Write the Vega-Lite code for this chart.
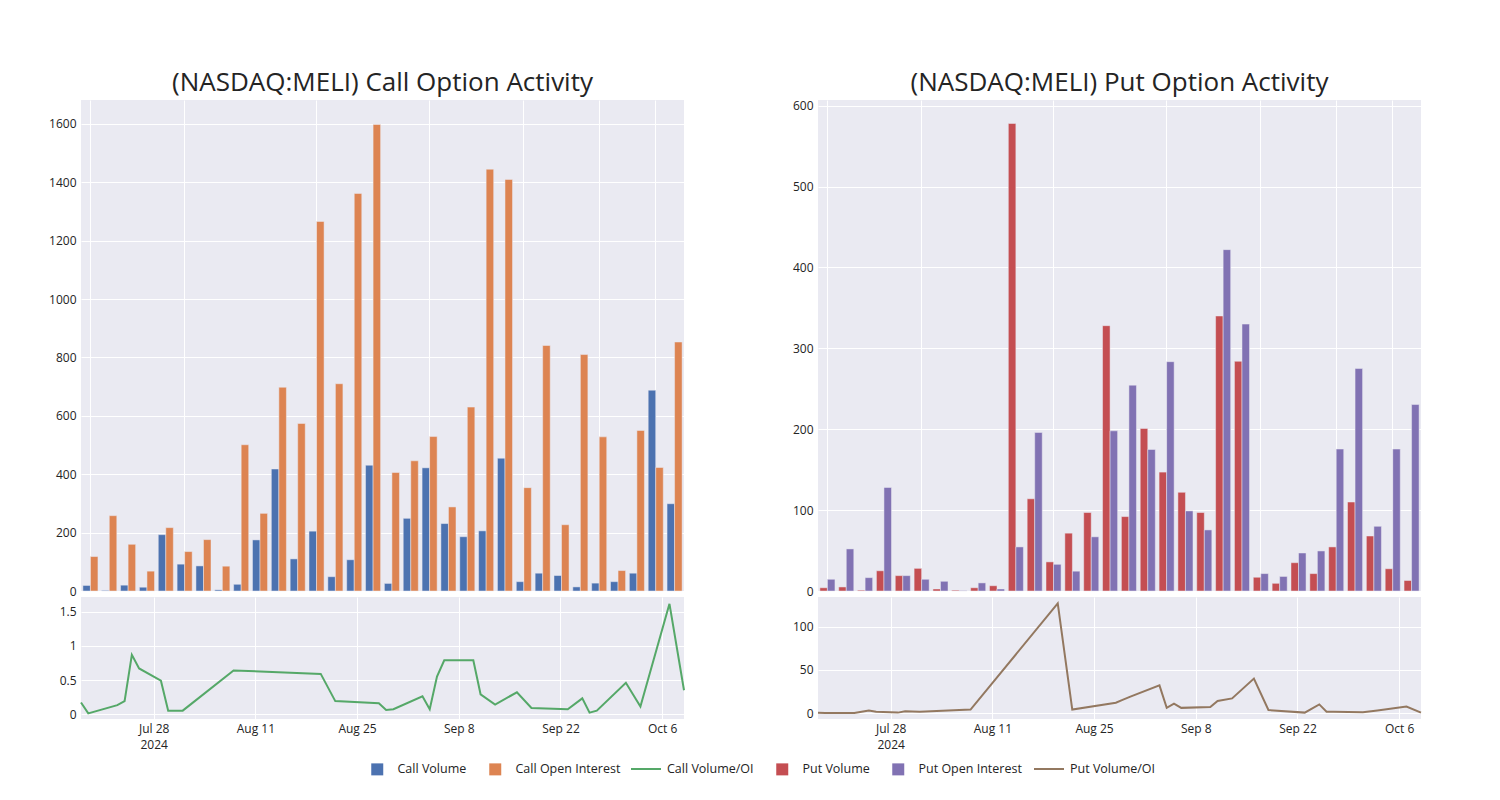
{
  "$schema": "https://vega.github.io/schema/vega-lite/v6.json",
  "autosize": {"type": "pad"},
  "padding": {"left": 48, "top": 69, "right": 0, "bottom": 0},
  "background": "white",
  "config": {
    "font": "Open Sans",
    "view": {"fill": "#eaeaf2", "stroke": null},
    "axis": {"labelFont": "Open Sans", "labelFontSize": 12, "labelColor": "#242424", "ticks": false, "domain": false, "gridColor": "white", "gridWidth": 1, "labelPadding": 5, "title": null, "minExtent": 0},
    "title": {"font": "Open Sans", "fontSize": 26, "fontWeight": "normal", "color": "#242424", "anchor": "middle", "frame": "group", "baseline": "alphabetic", "offset": 4},
    "legend": {"orient": "none", "direction": "horizontal", "title": null, "padding": 0, "labelFont": "Open Sans", "labelFontSize": 12.5, "labelColor": "#242424", "symbolStrokeWidth": 0, "symbolOpacity": 1, "labelLimit": 300}
  },
  "resolve": {"scale": {"xOffset": "independent", "color": "independent", "stroke": "independent"}, "legend": {"color": "independent", "stroke": "independent"}},
  "datasets": {
    "call": [
      {"date": "2024-07-18", "Call Volume": 19, "Call Open Interest": 118, "Call Volume/OI": 0.17},
      {"date": "2024-07-19", "Call Volume": 2, "Call Open Interest": 258, "Call Volume/OI": 0.01},
      {"date": "2024-07-23", "Call Volume": 20, "Call Open Interest": 160, "Call Volume/OI": 0.13},
      {"date": "2024-07-24", "Call Volume": 13, "Call Open Interest": 68, "Call Volume/OI": 0.19},
      {"date": "2024-07-25", "Call Volume": 193, "Call Open Interest": 217, "Call Volume/OI": 0.87},
      {"date": "2024-07-26", "Call Volume": 92, "Call Open Interest": 135, "Call Volume/OI": 0.67},
      {"date": "2024-07-29", "Call Volume": 86, "Call Open Interest": 176, "Call Volume/OI": 0.49},
      {"date": "2024-07-30", "Call Volume": 4, "Call Open Interest": 85, "Call Volume/OI": 0.05},
      {"date": "2024-08-01", "Call Volume": 23, "Call Open Interest": 501, "Call Volume/OI": 0.05},
      {"date": "2024-08-08", "Call Volume": 175, "Call Open Interest": 266, "Call Volume/OI": 0.64},
      {"date": "2024-08-20", "Call Volume": 418, "Call Open Interest": 698, "Call Volume/OI": 0.59},
      {"date": "2024-08-22", "Call Volume": 110, "Call Open Interest": 574, "Call Volume/OI": 0.19},
      {"date": "2024-08-28", "Call Volume": 205, "Call Open Interest": 1266, "Call Volume/OI": 0.16},
      {"date": "2024-08-29", "Call Volume": 49, "Call Open Interest": 710, "Call Volume/OI": 0.06},
      {"date": "2024-08-30", "Call Volume": 107, "Call Open Interest": 1362, "Call Volume/OI": 0.07},
      {"date": "2024-09-03", "Call Volume": 431, "Call Open Interest": 1598, "Call Volume/OI": 0.26},
      {"date": "2024-09-04", "Call Volume": 26, "Call Open Interest": 406, "Call Volume/OI": 0.07},
      {"date": "2024-09-05", "Call Volume": 249, "Call Open Interest": 446, "Call Volume/OI": 0.55},
      {"date": "2024-09-06", "Call Volume": 422, "Call Open Interest": 529, "Call Volume/OI": 0.79},
      {"date": "2024-09-10", "Call Volume": 231, "Call Open Interest": 288, "Call Volume/OI": 0.79},
      {"date": "2024-09-11", "Call Volume": 186, "Call Open Interest": 630, "Call Volume/OI": 0.29},
      {"date": "2024-09-13", "Call Volume": 206, "Call Open Interest": 1445, "Call Volume/OI": 0.14},
      {"date": "2024-09-16", "Call Volume": 455, "Call Open Interest": 1410, "Call Volume/OI": 0.32},
      {"date": "2024-09-18", "Call Volume": 32, "Call Open Interest": 354, "Call Volume/OI": 0.09},
      {"date": "2024-09-23", "Call Volume": 61, "Call Open Interest": 841, "Call Volume/OI": 0.07},
      {"date": "2024-09-25", "Call Volume": 53, "Call Open Interest": 227, "Call Volume/OI": 0.23},
      {"date": "2024-09-26", "Call Volume": 14, "Call Open Interest": 810, "Call Volume/OI": 0.02},
      {"date": "2024-09-27", "Call Volume": 27, "Call Open Interest": 528, "Call Volume/OI": 0.05},
      {"date": "2024-10-01", "Call Volume": 32, "Call Open Interest": 70, "Call Volume/OI": 0.46},
      {"date": "2024-10-03", "Call Volume": 61, "Call Open Interest": 550, "Call Volume/OI": 0.11},
      {"date": "2024-10-07", "Call Volume": 688, "Call Open Interest": 423, "Call Volume/OI": 1.62},
      {"date": "2024-10-09", "Call Volume": 299, "Call Open Interest": 853, "Call Volume/OI": 0.35}
    ],
    "put": [
      {"date": "2024-07-18", "Put Volume": 4, "Put Open Interest": 14.5, "Put Volume/OI": 0.3},
      {"date": "2024-07-19", "Put Volume": 5, "Put Open Interest": 52, "Put Volume/OI": 0.1},
      {"date": "2024-07-23", "Put Volume": 1, "Put Open Interest": 16.5, "Put Volume/OI": 0.05},
      {"date": "2024-07-24", "Put Volume": 25, "Put Open Interest": 128, "Put Volume/OI": 1.5},
      {"date": "2024-07-25", "Put Volume": 19, "Put Open Interest": 19, "Put Volume/OI": 3},
      {"date": "2024-07-26", "Put Volume": 28, "Put Open Interest": 14.5, "Put Volume/OI": 1.5},
      {"date": "2024-07-29", "Put Volume": 2.5, "Put Open Interest": 12, "Put Volume/OI": 0.5},
      {"date": "2024-07-30", "Put Volume": 1, "Put Open Interest": 0.5, "Put Volume/OI": 2},
      {"date": "2024-08-01", "Put Volume": 4, "Put Open Interest": 10, "Put Volume/OI": 1.5},
      {"date": "2024-08-08", "Put Volume": 6.5, "Put Open Interest": 2.5, "Put Volume/OI": 4},
      {"date": "2024-08-20", "Put Volume": 578, "Put Open Interest": 54.5, "Put Volume/OI": 127},
      {"date": "2024-08-22", "Put Volume": 114, "Put Open Interest": 196, "Put Volume/OI": 4},
      {"date": "2024-08-28", "Put Volume": 36, "Put Open Interest": 33, "Put Volume/OI": 12},
      {"date": "2024-08-29", "Put Volume": 71.5, "Put Open Interest": 24.5, "Put Volume/OI": 15.5},
      {"date": "2024-08-30", "Put Volume": 97, "Put Open Interest": 67, "Put Volume/OI": 19},
      {"date": "2024-09-03", "Put Volume": 328, "Put Open Interest": 198, "Put Volume/OI": 32},
      {"date": "2024-09-04", "Put Volume": 92, "Put Open Interest": 254.5, "Put Volume/OI": 6},
      {"date": "2024-09-05", "Put Volume": 201, "Put Open Interest": 175, "Put Volume/OI": 11},
      {"date": "2024-09-06", "Put Volume": 147, "Put Open Interest": 283.5, "Put Volume/OI": 6},
      {"date": "2024-09-10", "Put Volume": 122, "Put Open Interest": 99, "Put Volume/OI": 7},
      {"date": "2024-09-11", "Put Volume": 97, "Put Open Interest": 75.5, "Put Volume/OI": 14},
      {"date": "2024-09-13", "Put Volume": 340, "Put Open Interest": 422, "Put Volume/OI": 17},
      {"date": "2024-09-16", "Put Volume": 284, "Put Open Interest": 330, "Put Volume/OI": 40},
      {"date": "2024-09-18", "Put Volume": 17, "Put Open Interest": 21.5, "Put Volume/OI": 3.5},
      {"date": "2024-09-23", "Put Volume": 9.5, "Put Open Interest": 18, "Put Volume/OI": 0.5},
      {"date": "2024-09-25", "Put Volume": 35, "Put Open Interest": 47, "Put Volume/OI": 10},
      {"date": "2024-09-26", "Put Volume": 21.5, "Put Open Interest": 49.5, "Put Volume/OI": 1.5},
      {"date": "2024-09-27", "Put Volume": 54.5, "Put Open Interest": 175.5, "Put Volume/OI": 1.5},
      {"date": "2024-10-01", "Put Volume": 110, "Put Open Interest": 275, "Put Volume/OI": 1},
      {"date": "2024-10-03", "Put Volume": 68, "Put Open Interest": 80, "Put Volume/OI": 3},
      {"date": "2024-10-07", "Put Volume": 27.5, "Put Open Interest": 175.5, "Put Volume/OI": 7.5},
      {"date": "2024-10-09", "Put Volume": 13, "Put Open Interest": 230.5, "Put Volume/OI": 0.5}
    ]
  },
  "hconcat": [
    {
      "spacing": 0,
      "vconcat": [
        {
          "title": "(NASDAQ:MELI) Call Option Activity",
          "width": 603,
          "height": 491,
          "data": {"name": "call"},
          "transform": [{"fold": ["Call Volume", "Call Open Interest"]}],
          "mark": {"type": "bar", "stroke": "#eaeaf2", "strokeWidth": 0.5},
          "encoding": {
            "x": {"field": "date", "timeUnit": "utcyearmonthdate", "type": "ordinal", "scale": {"paddingInner": 0.2, "paddingOuter": 0.1},
                  "axis": {"labels": false, "grid": true, "bandPosition": 0.5,
                           "values": [{"year": 2024, "month": 7, "date": 18, "utc": true}, {"year": 2024, "month": 7, "date": 26, "utc": true}, {"year": 2024, "month": 8, "date": 28, "utc": true}, {"year": 2024, "month": 9, "date": 6, "utc": true}, {"year": 2024, "month": 9, "date": 18, "utc": true}, {"year": 2024, "month": 9, "date": 27, "utc": true}, {"year": 2024, "month": 10, "date": 7, "utc": true}]}},
            "xOffset": {"field": "key", "type": "nominal", "sort": ["Call Volume", "Call Open Interest"], "scale": {"paddingInner": 0, "paddingOuter": 0}},
            "y": {"field": "value", "type": "quantitative", "scale": {"domain": [0, 1682], "nice": false}, "axis": {"values": [0, 200, 400, 600, 800, 1000, 1200, 1400, 1600], "format": "d"}},
            "color": {"field": "key", "type": "nominal",
              "scale": {"domain": ["Call Volume", "Call Open Interest"], "range": ["#4c72b0", "#dd8452"]},
              "legend": {"legendX": 290, "legendY": 663, "symbolType": "square", "symbolSize": 144, "labelOffset": 14, "columnPadding": 22}}
          }
        },
        {
          "width": 603,
          "height": 122,
          "data": {"name": "call"},
          "transform": [{"fold": ["Call Volume/OI"]}],
          "mark": {"type": "line", "strokeWidth": 2},
          "encoding": {
            "x": {"field": "date", "type": "temporal",
                  "scale": {"type": "utc", "nice": false, "domain": [{"year": 2024, "month": 7, "date": 18, "utc": true}, {"year": 2024, "month": 10, "date": 9, "utc": true}]},
                  "axis": {"grid": true, "labelPadding": 4, "labelLineHeight": 16,
                           "values": [{"year": 2024, "month": 7, "date": 28, "utc": true}, {"year": 2024, "month": 8, "date": 11, "utc": true}, {"year": 2024, "month": 8, "date": 25, "utc": true}, {"year": 2024, "month": 9, "date": 8, "utc": true}, {"year": 2024, "month": 9, "date": 22, "utc": true}, {"year": 2024, "month": 10, "date": 6, "utc": true}],
                           "labelExpr": "utcFormat(datum.value, '%b %-d') == 'Jul 28' ? ['Jul 28', '2024'] : utcFormat(datum.value, '%b %-d')"}},
            "y": {"field": "value", "type": "quantitative", "scale": {"domain": [-0.073, 1.72], "nice": false, "zero": false}, "axis": {"values": [0, 0.5, 1, 1.5], "format": "~g"}},
            "stroke": {"field": "key", "type": "nominal",
              "scale": {"domain": ["Call Volume/OI"], "range": ["#55a868"]},
              "legend": {"legendX": 549, "legendY": 653, "symbolType": "stroke", "symbolSize": 900, "symbolStrokeWidth": 2, "labelOffset": 5}}
          }
        }
      ]
    },
    {
      "spacing": 0,
      "vconcat": [
        {
          "title": "(NASDAQ:MELI) Put Option Activity",
          "width": 603,
          "height": 491,
          "data": {"name": "put"},
          "transform": [{"fold": ["Put Volume", "Put Open Interest"]}],
          "mark": {"type": "bar", "stroke": "#eaeaf2", "strokeWidth": 0.5},
          "encoding": {
            "x": {"field": "date", "timeUnit": "utcyearmonthdate", "type": "ordinal", "scale": {"paddingInner": 0.2, "paddingOuter": 0.1},
                  "axis": {"labels": false, "grid": true, "bandPosition": 0.5,
                           "values": [{"year": 2024, "month": 7, "date": 18, "utc": true}, {"year": 2024, "month": 7, "date": 26, "utc": true}, {"year": 2024, "month": 8, "date": 28, "utc": true}, {"year": 2024, "month": 9, "date": 6, "utc": true}, {"year": 2024, "month": 9, "date": 18, "utc": true}, {"year": 2024, "month": 9, "date": 27, "utc": true}, {"year": 2024, "month": 10, "date": 7, "utc": true}]}},
            "xOffset": {"field": "key", "type": "nominal", "sort": ["Put Volume", "Put Open Interest"], "scale": {"paddingInner": 0, "paddingOuter": 0}},
            "y": {"field": "value", "type": "quantitative", "scale": {"domain": [0, 607], "nice": false}, "axis": {"values": [0, 100, 200, 300, 400, 500, 600], "format": "d"}},
            "color": {"field": "key", "type": "nominal",
              "scale": {"domain": ["Put Volume", "Put Open Interest"], "range": ["#c44e52", "#8172b3"]},
              "legend": {"legendX": -42, "legendY": 663, "symbolType": "square", "symbolSize": 144, "labelOffset": 14, "columnPadding": 22}}
          }
        },
        {
          "width": 603,
          "height": 122,
          "data": {"name": "put"},
          "transform": [{"fold": ["Put Volume/OI"]}],
          "mark": {"type": "line", "strokeWidth": 2},
          "encoding": {
            "x": {"field": "date", "type": "temporal",
                  "scale": {"type": "utc", "nice": false, "domain": [{"year": 2024, "month": 7, "date": 18, "utc": true}, {"year": 2024, "month": 10, "date": 9, "utc": true}]},
                  "axis": {"grid": true, "labelPadding": 4, "labelLineHeight": 16,
                           "values": [{"year": 2024, "month": 7, "date": 28, "utc": true}, {"year": 2024, "month": 8, "date": 11, "utc": true}, {"year": 2024, "month": 8, "date": 25, "utc": true}, {"year": 2024, "month": 9, "date": 8, "utc": true}, {"year": 2024, "month": 9, "date": 22, "utc": true}, {"year": 2024, "month": 10, "date": 6, "utc": true}],
                           "labelExpr": "utcFormat(datum.value, '%b %-d') == 'Jul 28' ? ['Jul 28', '2024'] : utcFormat(datum.value, '%b %-d')"}},
            "y": {"field": "value", "type": "quantitative", "scale": {"domain": [-6.9, 134.5], "nice": false, "zero": false}, "axis": {"values": [0, 50, 100], "format": "d"}},
            "stroke": {"field": "key", "type": "nominal",
              "scale": {"domain": ["Put Volume/OI"], "range": ["#937860"]},
              "legend": {"legendX": 215, "legendY": 653, "symbolType": "stroke", "symbolSize": 900, "symbolStrokeWidth": 2, "labelOffset": 5}}
          }
        }
      ]
    }
  ],
  "spacing": 22
}
